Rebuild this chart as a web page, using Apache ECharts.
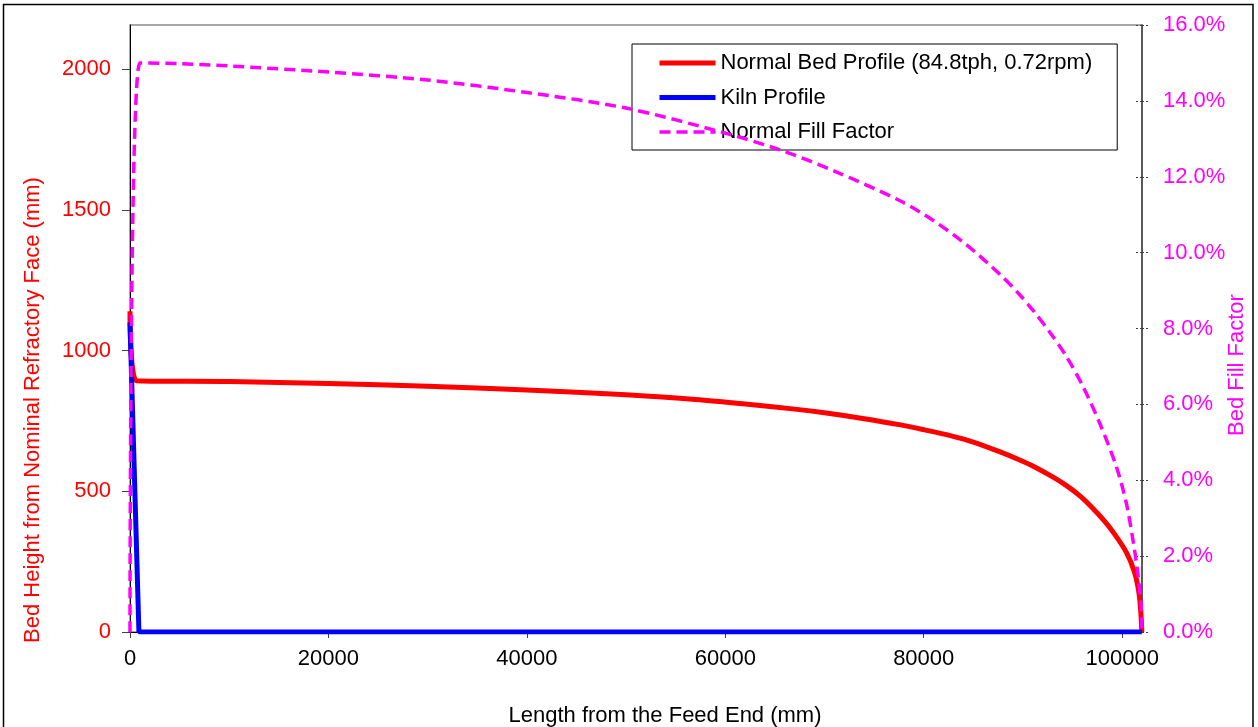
<!DOCTYPE html>
<html>
<head>
<meta charset="utf-8">
<title>Bed Profile</title>
<script src="https://cdn.jsdelivr.net/npm/echarts@6/dist/echarts.min.js"></script>
<style>
  html, body { margin: 0; padding: 0; background: #ffffff; }
  #chart { width: 1258px; height: 727px; }
</style>
</head>
<body>
<div id="chart"></div>
<script>
// Normal bed profile: distance from feed end (mm) and bed height (mm)
const bedX = [0, 650, 10000, 20000, 30000, 40000, 50000, 57000, 62000, 67000, 70000, 74000, 77660, 80000,
              82680, 85000, 87700, 89500, 91040, 93000, 94390, 95800, 97060, 98200, 99070, 100410, 101240,
              101680, 101880, 101980];
const bedH = [1140, 893, 890, 883, 873, 860, 843, 826, 810, 792, 779, 758, 736, 719,
              698, 675, 640, 614, 589, 551, 520, 482, 439, 395, 356, 284, 213,
              142, 71, 0];

// Kiln profile: distance (mm) and height (mm)
const kilnX = [0, 900, 101980];
const kilnH = [1100, 0, 0];

// Normal fill factor: distance (mm) and fill (%)
const fillX = [0, 1000, 5000, 10000, 20000, 30000, 40000, 50000, 60000, 65600, 71000, 77660, 81000,
               84350, 87700, 89400, 91040, 92710, 94390, 96060, 97730, 99400, 100410, 101070, 101570, 101910, 101990];
const fillPct = [0, 15.0, 14.98, 14.92, 14.76, 14.55, 14.22, 13.81, 13.15, 12.7, 12.15, 11.36, 10.84,
                 10.2, 9.42, 8.97, 8.47, 7.9, 7.26, 6.47, 5.51, 4.37, 3.41, 2.45, 1.57, 0.7, 0];

// Axis tick values
const xTicks = [0, 20000, 40000, 60000, 80000, 100000];
const leftTicks = [0, 500, 1000, 1500, 2000];

const seriesNames = ['Normal Bed Profile (84.8tph, 0.72rpm)', 'Kiln Profile', 'Normal Fill Factor'];

const pairs = (xs, ys) => xs.map((x, i) => [x, ys[i]]);

const FONT = '"Liberation Sans", Arial, sans-serif';
const FS = 22;

const rightAxisBase = {
  type: 'value',
  position: 'right',
  min: 0,
  max: 16,
  interval: 2,
  splitLine: { show: false }
};

const option = {
  animation: false,
  backgroundColor: '#ffffff',
  textStyle: { fontFamily: FONT },
  grid: {
    left: 130, right: 116, top: 25, bottom: 95,
    show: true,
    borderColor: '#8c8c8c',
    borderWidth: 1.5,
    backgroundColor: '#ffffff'
  },
  legend: {
    orient: 'vertical',
    left: 632,
    top: 44,
    padding: [8, 25, 7, 25],
    itemWidth: 56,
    itemHeight: 14,
    itemGap: 12.5,
    backgroundColor: '#ffffff',
    borderColor: '#000000',
    borderWidth: 1,
    itemStyle: { opacity: 0 },
    lineStyle: { width: 'inherit', type: 'inherit' },
    textStyle: { fontFamily: FONT, fontSize: FS, color: '#000000', lineHeight: 22 },
    data: seriesNames
  },
  xAxis: {
    type: 'value',
    min: 0,
    max: 102000,
    interval: 20000,
    axisLine: { show: true, lineStyle: { color: '#000000', width: 1 } },
    axisTick: { show: true, inside: false, length: 6, lineStyle: { color: '#404040' }, customValues: xTicks },
    axisLabel: {
      color: '#000000', fontSize: FS, fontFamily: FONT, margin: 16, customValues: xTicks,
      formatter: v => String(v)
    },
    splitLine: { show: false }
  },
  yAxis: [
    {
      type: 'value',
      position: 'left',
      min: 0,
      max: 2157,
      interval: 500,
      axisLine: { show: true, lineStyle: { color: '#000000', width: 1 } },
      axisTick: { show: true, inside: false, length: 8, lineStyle: { color: '#404040' }, customValues: leftTicks },
      axisLabel: {
        color: '#ff0000', fontSize: FS, fontFamily: FONT, margin: 19, customValues: leftTicks,
        formatter: v => String(v)
      },
      splitLine: { show: false }
    },
    Object.assign({}, rightAxisBase, {
      axisLine: { show: true, lineStyle: { color: '#404040', width: 1.5 } },
      axisTick: { show: true, inside: false, length: 7, lineStyle: { color: '#404040', type: [2, 2] } },
      axisLabel: {
        color: '#ff00ff', fontSize: FS, fontFamily: FONT, margin: 21,
        formatter: v => v.toFixed(1) + '%'
      }
    }),
    // inner half of the cross ticks on the fill-factor axis
    Object.assign({}, rightAxisBase, {
      axisLine: { show: false },
      axisTick: { show: true, inside: true, length: 6, lineStyle: { color: '#404040', type: [2, 2] } },
      axisLabel: { show: false }
    })
  ],
  series: [
    {
      name: seriesNames[0],
      type: 'line',
      yAxisIndex: 0,
      data: pairs(bedX, bedH),
      showSymbol: false,
      symbol: 'none',
      smooth: 0.3,
      lineStyle: { color: '#ff0000', width: 5 },
      itemStyle: { color: '#ff0000' },
      z: 2
    },
    {
      name: seriesNames[1],
      type: 'line',
      yAxisIndex: 0,
      data: pairs(kilnX, kilnH),
      showSymbol: false,
      symbol: 'none',
      lineStyle: { color: '#0000ff', width: 5 },
      itemStyle: { color: '#0000ff' },
      z: 3
    },
    {
      name: seriesNames[2],
      type: 'line',
      yAxisIndex: 1,
      data: pairs(fillX, fillPct),
      showSymbol: false,
      symbol: 'none',
      smooth: 0.3,
      lineStyle: { color: '#ff00ff', width: 3.5, type: [11, 6] },
      itemStyle: { color: '#ff00ff' },
      z: 4
    }
  ],
  graphic: [
    {
      type: 'rect',
      z: -10,
      silent: true,
      shape: { x: 3.5, y: 4.5, width: 1249.5, height: 760 },
      style: { fill: null, stroke: '#000000', lineWidth: 1.5 }
    },
    {
      type: 'text',
      x: 33, y: 410,
      rotation: Math.PI / 2,
      style: {
        text: 'Bed Height from Nominal Refractory Face (mm)',
        fill: '#ff0000', font: FS + 'px ' + FONT,
        textAlign: 'center', textVerticalAlign: 'middle'
      }
    },
    {
      type: 'text',
      x: 1237, y: 365,
      rotation: Math.PI / 2,
      style: {
        text: 'Bed Fill Factor',
        fill: '#ff00ff', font: FS + 'px ' + FONT,
        textAlign: 'center', textVerticalAlign: 'middle'
      }
    },
    {
      type: 'text',
      x: 665, y: 716,
      style: {
        text: 'Length from the Feed End (mm)',
        fill: '#000000', font: FS + 'px ' + FONT,
        textAlign: 'center', textVerticalAlign: 'middle'
      }
    }
  ]
};

const chart = echarts.init(document.getElementById('chart'), null, { renderer: 'canvas' });
chart.setOption(option);
</script>
</body>
</html>
